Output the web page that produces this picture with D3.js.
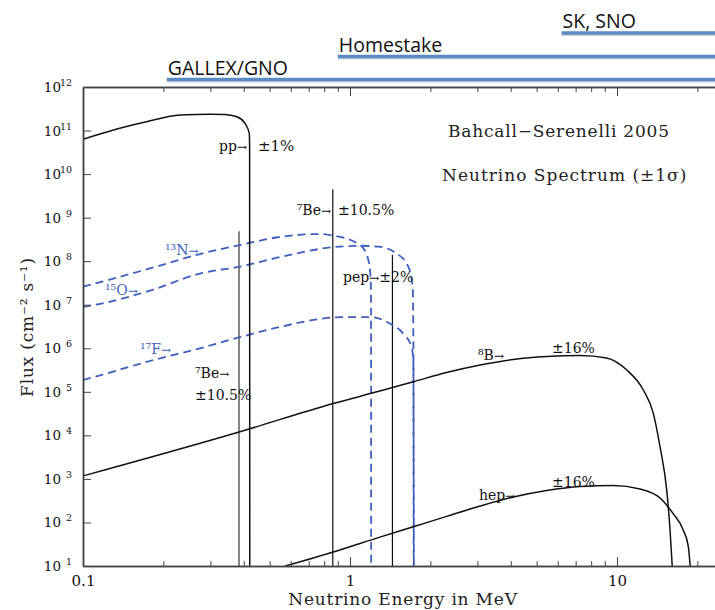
<!DOCTYPE html>
<html>
<head>
<meta charset="utf-8">
<script src="https://cdn.jsdelivr.net/npm/d3@7"></script>
<style>
  body { margin: 0; background: #fff; }
  svg { display: block; }
  .serif { font-family: "DejaVu Serif", "Liberation Serif", serif; }
</style>
</head>
<body>
<svg id="chart" width="715" height="610"></svg>
<script>
// Solar neutrino spectra, Bahcall–Serenelli 2005 standard solar model.
// Each pair is [energy in MeV, flux in cm^-2 s^-1 (MeV^-1 for continuum sources)].
const ppSpectrum = [
  [0.1, 6.3e10], [0.13, 1.03e11], [0.173, 1.59e11], [0.231, 2.27e11],
  [0.299, 2.37e11], [0.34, 2.35e11], [0.377, 2.07e11], [0.4045, 1.46e11],
  [0.4196, 8.6e10], [0.4208, 4.2e10], [0.4213, 10]
];
const n13Spectrum = [
  [0.1, 2.6e7], [0.116, 3.3e7], [0.178, 6.8e7], [0.274, 1.46e8], [0.387, 2.35e8],
  [0.547, 3.6e8], [0.772, 4.2e8], [0.86, 3.9e8], [0.94, 3.5e8], [1.05, 2.7e8],
  [1.12, 2.0e8], [1.17, 1.1e8], [1.195, 4e7], [1.199, 1e7], [1.2, 10]
];
const o15Spectrum = [
  [0.1, 8.9e6], [0.116, 1.05e7], [0.178, 2.1e7], [0.274, 5.2e7], [0.387, 7.5e7],
  [0.547, 1.24e8], [0.863, 2.1e8], [1.09, 2.26e8], [1.28, 2.15e8], [1.496, 1.5e8],
  [1.653, 7.5e7], [1.717, 2.6e7], [1.728, 1e6], [1.732, 10]
];
const f17Spectrum = [
  [0.1, 1.87e5], [0.116, 2.4e5], [0.178, 5.1e5], [0.274, 1.0e6], [0.387, 1.8e6],
  [0.547, 3.1e6], [0.772, 4.7e6], [0.92, 5.2e6], [1.19, 5.2e6], [1.41, 3.7e6],
  [1.58, 2.2e6], [1.70, 1.09e6], [1.726, 5.4e5], [1.735, 10]
];
const b8Spectrum = [
  [0.1, 1.17e3], [0.387, 1.21e4], [0.866, 5.4e4], [1.294, 1.04e5], [1.727, 1.7e5],
  [2.3, 2.77e5], [3.07, 4.12e5], [4.09, 5.52e5], [5.45, 6.47e5], [7.27, 6.82e5],
  [9.14, 5.98e5], [10.86, 3.2e5], [12.55, 1.1e5], [13.68, 3.2e4], [14.49, 5.5e3],
  [15.35, 5.6e2], [15.8, 67], [16.1, 10]
];
const hepSpectrum = [
  [0.571, 10], [0.866, 21], [1.294, 46], [1.727, 79.5], [2.3, 138], [3.07, 238],
  [4.09, 384], [5.45, 542], [7.27, 669], [9.68, 705], [12.2, 586], [14.5, 364],
  [16.2, 162], [17.7, 67], [18.5, 28], [18.8, 10]
];
// Monoenergetic lines: energy (MeV) and flux (cm^-2 s^-1)
const lineEnergies = [0.384, 0.862, 1.442];
const lineFluxes = [4.9e8, 4.5e9, 1.38e8];
const lineNames = ["7Be 384 keV", "7Be 862 keV", "pep"];

// Experiment energy thresholds (MeV)
const detectorNames = ["GALLEX/GNO", "Homestake", "SK, SNO"];
const detectorThresholds = [0.206, 0.90, 6.2];

// Axis ticks
const energyTicks = [0.1, 1, 10];
const energyTickLabels = ["0.1", "1", "10"];
const fluxExponents = [1, 2, 3, 4, 5, 6, 7, 8, 9, 10, 11, 12];

const svg = d3.select("#chart");
const W = 715, H = 610;
const plotLeft = 83, plotTop = 87, plotBottom = 566;

svg.append("rect").attr("width", W).attr("height", H).attr("fill", "#fff");

const x = d3.scaleLog().domain([0.1, 30]).range([plotLeft, plotLeft + 267 * Math.log10(300)]);
const y = d3.scaleLog().domain([10, 1e12]).range([plotBottom, plotTop]);

// Detector coverage bars above the plot
const barY = [79.5, 56.5, 33];
const det = svg.append("g");
detectorNames.forEach((name, i) => {
  const x0 = x(detectorThresholds[i]);
  det.append("line").attr("x1", x0).attr("x2", W + 5).attr("y1", barY[i] + 1.5).attr("y2", barY[i] + 1.5)
    .attr("stroke", "#9aa7b8").attr("stroke-width", 3).attr("opacity", 0.5);
  det.append("line").attr("x1", x0).attr("x2", W + 5).attr("y1", barY[i]).attr("y2", barY[i])
    .attr("stroke", "#5a8ac6").attr("stroke-width", 3.5);
  det.append("text").attr("x", x0 + 1).attr("y", barY[i] - 5)
    .attr("font-family", "'Open Sans', Lato, sans-serif").attr("font-size", 19.5)
    .attr("fill", "#111").text(name);
});

// Plot clip
svg.append("defs").append("clipPath").attr("id", "plotClip")
  .append("rect").attr("x", plotLeft).attr("y", plotTop - 1).attr("width", W - plotLeft).attr("height", plotBottom - plotTop + 1);

const plot = svg.append("g").attr("clip-path", "url(#plotClip)");

// Monoenergetic lines
lineEnergies.forEach((e, i) => {
  plot.append("line")
    .attr("x1", x(e)).attr("x2", x(e))
    .attr("y1", y(lineFluxes[i])).attr("y2", y(10))
    .attr("stroke", i === 0 ? "#666" : "#111")
    .attr("stroke-width", i === 0 ? 1.6 : 1.2);
});

const line = d3.line().x(d => x(d[0])).y(d => y(d[1])).curve(d3.curveMonotoneX);

const blue = "#3f5fbf";
[n13Spectrum, o15Spectrum, f17Spectrum].forEach(s => {
  plot.append("path").attr("d", line(s)).attr("fill", "none")
    .attr("stroke", blue).attr("stroke-width", 1.8).attr("stroke-dasharray", "8,5");
});
[ppSpectrum, b8Spectrum, hepSpectrum].forEach(s => {
  plot.append("path").attr("d", line(s)).attr("fill", "none")
    .attr("stroke", "#111").attr("stroke-width", 1.5);
});

// Axes
const axisColor = "#444";
const minorE = x.ticks().filter(v => !energyTicks.some(t => Math.abs(t / v - 1) < 1e-9));
const majorF = fluxExponents.map(k => Math.pow(10, k));
const minorF = y.ticks().filter(v => !majorF.some(t => Math.abs(t / v - 1) < 1e-9));

function styleAxis(g) {
  g.selectAll("path").attr("stroke", axisColor).attr("stroke-width", 1.5);
  g.selectAll("line").attr("stroke", axisColor).attr("stroke-width", 1);
}

// bottom
const gB = svg.append("g").attr("transform", `translate(0,${plotBottom})`);
gB.append("g").call(d3.axisBottom(x).tickValues(minorE).tickSize(-5).tickSizeOuter(0).tickFormat("")).call(styleAxis);
gB.append("g").call(d3.axisBottom(x).tickValues(energyTicks).tickSize(-9).tickSizeOuter(0).tickPadding(9)
    .tickFormat((d, i) => energyTickLabels[i])).call(styleAxis)
  .selectAll("text").attr("font-family", "'DejaVu Serif', serif").attr("font-size", 15).attr("fill", "#111");

// top
const gT = svg.append("g").attr("transform", `translate(0,${plotTop})`);
gT.append("g").call(d3.axisTop(x).tickValues(minorE).tickSize(-5).tickSizeOuter(0).tickFormat("")).call(styleAxis);
gT.append("g").call(d3.axisTop(x).tickValues(energyTicks).tickSize(-9).tickSizeOuter(0).tickFormat("")).call(styleAxis);

// left
const gL = svg.append("g").attr("transform", `translate(${plotLeft},0)`);
gL.append("g").call(d3.axisLeft(y).tickValues(minorF).tickSize(-4).tickSizeOuter(0).tickFormat("")).call(styleAxis);
gL.append("g").call(d3.axisLeft(y).tickValues(majorF).tickSize(-8).tickSizeOuter(0).tickFormat("")).call(styleAxis);

// Flux tick labels: 10 with raised exponent
const yl = svg.append("g").attr("class", "serif").attr("fill", "#111");
fluxExponents.forEach(k => {
  const ty = y(Math.pow(10, k));
  yl.append("text").attr("x", 61).attr("y", ty + 5).attr("text-anchor", "end")
    .attr("font-size", 13.5).text("10");
  yl.append("text").attr("x", 72).attr("y", ty - 1).attr("text-anchor", "end")
    .attr("font-size", 9.5).text(String(k));
});

// Axis titles
svg.append("text").attr("class", "serif").attr("x", 403).attr("y", 605)
  .attr("text-anchor", "middle").attr("font-size", 17).attr("letter-spacing", 0.8).attr("fill", "#222")
  .text("Neutrino Energy in MeV");
svg.append("text").attr("class", "serif").attr("transform", "translate(33,327) rotate(-90)")
  .attr("text-anchor", "middle").attr("font-size", 17).attr("letter-spacing", 0.8).attr("fill", "#222")
  .text("Flux (cm\u207B\u00B2 s\u207B\u00B9)");

// Title block
svg.append("text").attr("class", "serif").attr("x", 448).attr("y", 137)
  .attr("font-size", 17).attr("letter-spacing", 0.8).attr("fill", "#222").text("Bahcall\u2212Serenelli 2005");
svg.append("text").attr("class", "serif").attr("x", 442).attr("y", 181)
  .attr("font-size", 17).attr("letter-spacing", 1).attr("fill", "#222").text("Neutrino Spectrum (\u00B11\u03C3)");

// Source annotations; "→" is drawn as a smaller arrow glyph
const annotations = [
  { x: 247, y: 151, a: "end", t: "pp→" },
  { x: 258, y: 151, a: "start", t: "±1%", s: 15 },
  { x: 331, y: 215, a: "end", t: "\u2077Be→" },
  { x: 338, y: 215, a: "start", t: "±10.5%" },
  { x: 343, y: 282, a: "start", t: "pep→±2%" },
  { x: 165, y: 255, a: "start", t: "\u00B9\u00B3N→", c: blue },
  { x: 105, y: 295, a: "start", t: "\u00B9\u2075O→", c: blue },
  { x: 140, y: 354, a: "start", t: "\u00B9\u2077F→", c: blue },
  { x: 195, y: 378, a: "start", t: "\u2077Be→" },
  { x: 195, y: 400, a: "start", t: "±10.5%" },
  { x: 478, y: 360, a: "start", t: "\u2078B→" },
  { x: 552, y: 353, a: "start", t: "±16%" },
  { x: 479, y: 500, a: "start", t: "hep→" },
  { x: 552, y: 487, a: "start", t: "±16%" }
];
const ann = svg.append("g").attr("class", "serif");
annotations.forEach(d => {
  const t = ann.append("text").attr("x", d.x).attr("y", d.y).attr("text-anchor", d.a)
    .attr("font-size", d.s || 14).attr("fill", d.c || "#111");
  d.t.split(/(→)/).filter(s => s.length).forEach(part => {
    const sp = t.append("tspan").text(part);
    if (part === "→") sp.attr("font-size", 12);
  });
});
</script>
</body>
</html>
